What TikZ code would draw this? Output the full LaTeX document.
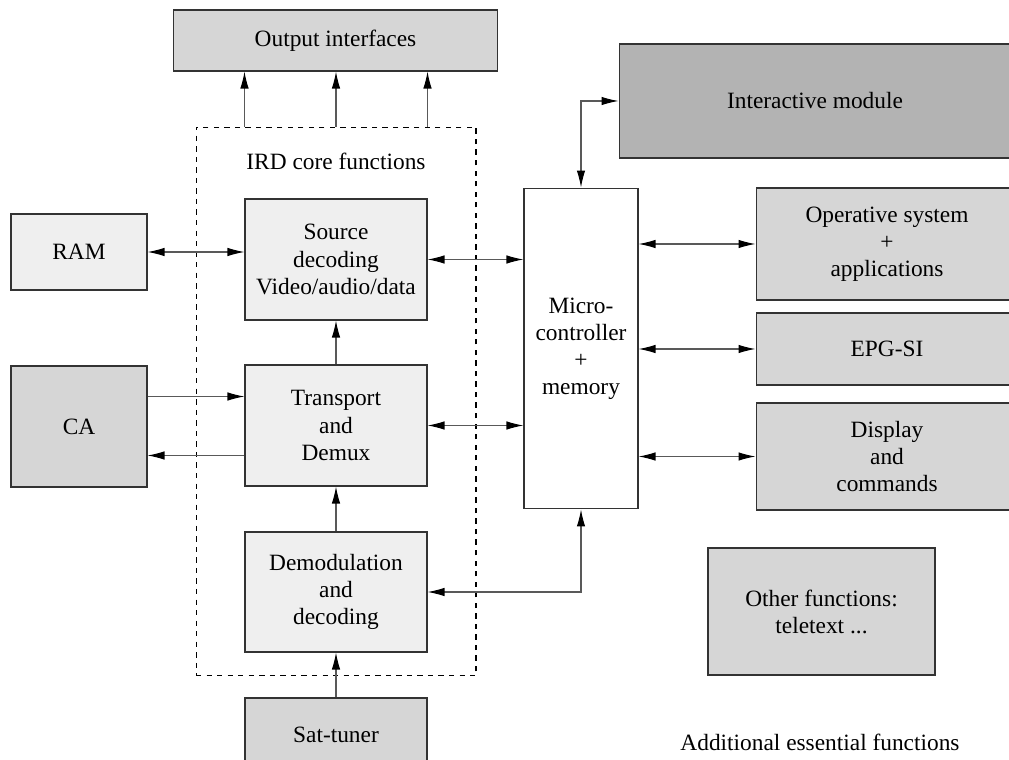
\documentclass[tikz,border=0pt]{standalone}
\usepackage{fontspec}
\setmainfont{Liberation Serif}
\definecolor{boxlight}{RGB}{239,239,239}
\definecolor{boxmid}{RGB}{214,214,214}
\definecolor{boxdark}{RGB}{179,179,179}
\usetikzlibrary{arrows.meta,positioning}
\tikzset{
  blk/.style={draw=black!80, line width=0.6pt, align=center, inner sep=0pt,
    font=\fontsize{13.3}{15.4}\selectfont},
  procbox/.style={blk, fill=boxlight},
  addbox/.style={blk, fill=boxmid},
  link/.style={draw=black!65, line width=0.6pt},
  >={Latex[length=0.34cm,width=0.17cm,color=black]}
}
\begin{document}
\begin{tikzpicture}[x=0.02cm, y=-0.02cm]
    \useasboundingbox (0,0) rectangle (1009,760);

    % IRD core
    \node[draw, dashed, line width=0.6pt, minimum width=5.6cm, minimum height=10.98cm] (ird) at (336,401.5) {};
    \node[font=\fontsize{13.3}{15.4}\selectfont] (irdlbl) at (336,161) {IRD core functions};
    \node[procbox, minimum width=3.64cm, minimum height=2.42cm] (src) at (336,259.5) {Source\\decoding\\Video/audio/data};
    \node[procbox, minimum width=3.64cm, minimum height=2.42cm] (trans) at (336,425.5) {Transport\\and\\Demux};
    \node[procbox, minimum width=3.64cm, minimum height=2.4cm] (demod) at (336,592) {Demodulation\\and\\decoding};

    % surrounding blocks
    \node[addbox, minimum width=6.5cm, minimum height=1.22cm] (out) at (335.5,40.5) {Output interfaces};
    \node[procbox, minimum width=2.72cm, minimum height=1.52cm] (ram) at (79,252) {RAM};
    \node[addbox, minimum width=2.72cm, minimum height=2.42cm] (ca) at (79,426.5) {CA};
    \node[addbox, minimum width=3.64cm, minimum height=1.48cm] (sat) at (336,735) {Sat-tuner};
    \node[blk, fill=white, minimum width=2.28cm, minimum height=6.42cm] (micro) at (581,348.5) {Micro-\\controller\\+\\memory};

    % additional functions
    \node[blk, fill=boxdark, minimum width=7.84cm, minimum height=2.28cm] (inter) at (815,101) {Interactive module};
    \node[addbox, minimum width=5.24cm, minimum height=2.24cm] (os) at (887,244) {Operative system\\+\\applications};
    \node[addbox, minimum width=5.24cm, minimum height=1.44cm] (epg) at (887,349) {EPG-SI};
    \node[addbox, minimum width=5.24cm, minimum height=2.14cm] (disp) at (887,456.5) {Display\\and\\commands};
    \node[addbox, minimum width=4.54cm, minimum height=2.54cm] (other) at (821.5,611.5) {Other functions:\\teletext ...};
    \node[font=\fontsize{13.3}{15.4}\selectfont] (addlbl) at (820,742) {Additional essential functions};

    % links
    \draw[link, ->] (ird.north -| src.west) -- (out.south -| src.west);
    \draw[link, ->] (ird.north) -- (out.south -| ird.north);
    \draw[link, ->] (ird.north -| src.east) -- (out.south -| src.east);
    \draw[link, <->] (ram.east) -- (ram.east -| src.west);
    \draw[link, <->] (src.east) -- (src.east -| micro.west);
    \draw[link, ->] (trans.north) -- (src.south);
    \draw[link, ->] ([yshift=0.6cm]ca.east) -- ([yshift=0.6cm]ca.east -| trans.west);
    \draw[link, ->] ([yshift=-0.6cm]trans.west) -- ([yshift=-0.6cm]trans.west -| ca.east);
    \draw[link, <->] (trans.east) -- (trans.east -| micro.west);
    \draw[link, ->] (demod.north) -- (trans.south);
    \draw[link, ->] (sat.north) -- (demod.south);
    \draw[link, <->] (demod.east) -| (micro.south);
    \draw[link, <->] (micro.north) |- (inter.west);
    \draw[link, <->] (micro.east |- os.west) -- (os.west);
    \draw[link, <->] (micro.east |- epg.west) -- (epg.west);
    \draw[link, <->] (micro.east |- disp.west) -- (disp.west);
\end{tikzpicture}
\end{document}
